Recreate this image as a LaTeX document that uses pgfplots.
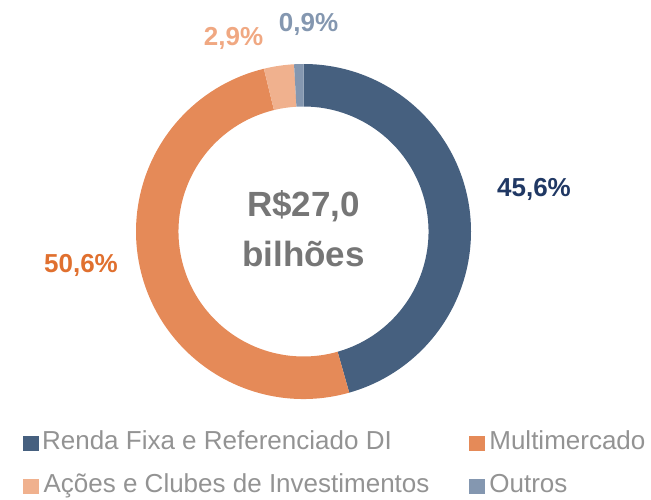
\documentclass[border=0pt]{standalone}
\usepackage{pgfplots}
\pgfplotsset{compat=1.18}
\usepackage{pgfplotstable}
\usepackage{fontspec}
\setmainfont{Liberation Sans}
\definecolor{c0}{HTML}{46607F}
\definecolor{c1}{HTML}{E58A58}
\definecolor{c2}{HTML}{F0B18E}
\definecolor{c3}{HTML}{8497B0}
\definecolor{l0}{HTML}{203864}
\definecolor{l1}{HTML}{E0702F}
\definecolor{l2}{HTML}{F0A882}
\definecolor{l3}{HTML}{8497B0}
\definecolor{ctxt}{HTML}{767676}
\definecolor{legtxt}{HTML}{939393}
\pgfplotstableread{
name value
RF 45.6
MM 50.6
AC 2.9
OU 0.9
}\piedata
\begin{document}
\begin{tikzpicture}
\gdef\startang{90}
\foreach \i in {0,...,3}{%
  \pgfplotstablegetelem{\i}{value}\of\piedata
  \pgfmathsetmacro\endang{\startang-3.6*\pgfplotsretval}%
  \expandafter\xdef\csname sa\i\endcsname{\startang}%
  \expandafter\xdef\csname ea\i\endcsname{\endang}%
  \xdef\startang{\endang}%
}
\useasboundingbox (0,0) rectangle (651pt,499pt);
\begin{axis}[
  at={(0,0)}, anchor=south west,
  x=1pt, y=1pt, xmin=0, xmax=651, ymin=0, ymax=499,
  hide axis, clip=false,
  legend columns=2,
  legend cell align=left,
  legend style={at={(axis cs:22.7,68.7)}, anchor=north west, draw=none, fill=none,
    inner sep=0pt, outer sep=0pt,
    font=\fontsize{26}{30}\selectfont, text=legtxt,
    /tikz/every even column/.append style={column sep=39.5pt},
    row sep=19pt,
    nodes={inner sep=0pt, outer sep=0pt, text height=19pt, text depth=5pt}},
]
\pgfplotsinvokeforeach{0,...,3}{
  \fill[c#1] ([shift={(\csname sa#1\endcsname:167.5pt)}]axis cs:303.5,267.5)
    arc[start angle=\csname sa#1\endcsname, end angle=\csname ea#1\endcsname, radius=167.5pt]
    -- ([shift={(\csname ea#1\endcsname:125pt)}]axis cs:303.5,267.5)
    arc[start angle=\csname ea#1\endcsname, end angle=\csname sa#1\endcsname, radius=125pt]
    -- cycle;
}
\addlegendimage{legend image code/.code={\fill[c0] (0pt,-8pt) rectangle (15pt,6.5pt);}}
\addlegendentry{\hspace{4pt}Renda Fixa e Referenciado DI}
\addlegendimage{legend image code/.code={\fill[c1] (0pt,-8pt) rectangle (15pt,6.5pt);}}
\addlegendentry{\hspace{5pt}Multimercado}
\addlegendimage{legend image code/.code={\fill[c2] (0pt,-8pt) rectangle (15pt,6.5pt);}}
\addlegendentry{\hspace{5.5pt}Ações e Clubes de Investimentos}
\addlegendimage{legend image code/.code={\fill[c3] (0pt,-8pt) rectangle (15pt,6.5pt);}}
\addlegendentry{\hspace{5pt}Outros}
\node[anchor=base, inner sep=0pt, text=ctxt, font=\fontsize{35}{40}\selectfont\bfseries] at (axis cs:303.5,282) {R\$27,0};
\node[anchor=base, inner sep=0pt, text=ctxt, font=\fontsize{35}{40}\selectfont\bfseries] at (axis cs:303.5,232) {bilhões};
\node[anchor=base, inner sep=0pt, text=l0, font=\fontsize{26}{30}\selectfont\bfseries] at (axis cs:534,302) {45,6\%};
\node[anchor=base, inner sep=0pt, text=l1, font=\fontsize{26}{30}\selectfont\bfseries] at (axis cs:81,226) {50,6\%};
\node[anchor=base, inner sep=0pt, text=l2, font=\fontsize{26}{30}\selectfont\bfseries] at (axis cs:233.5,453) {2,9\%};
\node[anchor=base, inner sep=0pt, text=l3, font=\fontsize{26}{30}\selectfont\bfseries] at (axis cs:308.5,467) {0,9\%};
\end{axis}
\end{tikzpicture}
\end{document}
